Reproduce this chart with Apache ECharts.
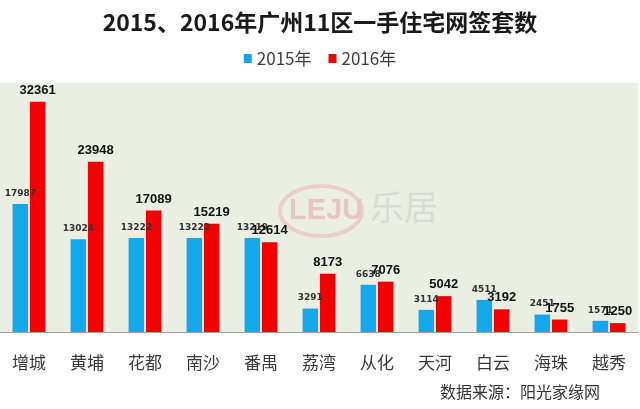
<!DOCTYPE html>
<html><head><meta charset="utf-8">
<script src="https://cdn.jsdelivr.net/npm/echarts@6/dist/echarts.min.js"></script>
<style>html,body{margin:0;padding:0;background:#fff}#c{width:640px;height:409px}</style>
</head><body><div id="c"></div>
<script>
var categories = ['增城','黄埔','花都','南沙','番禺','荔湾','从化','天河','白云','海珠','越秀'];
var values2015 = [17987,13024,13222,13222,13219,3291,6638,3114,4511,2451,1571];
var values2016 = [32361,23948,17089,15219,12614,8173,7076,5042,3192,1755,1250];
var seriesNames = ['2015年','2016年'];
var titleText = '2015、2016年广州11区一手住宅网签套数';
var sourceText = '数据来源：阳光家缘网';

var chart = echarts.init(document.getElementById('c'), null, {renderer:'canvas'});
chart.setOption({
  animation:false,
  backgroundColor:'#ffffff',
  title:{text:titleText,left:'center',top:6,
    textStyle:{fontFamily:'Noto Sans CJK SC',fontWeight:'bold',fontSize:23,color:'#1a1a1a'}},
  legend:{top:45,left:'center',itemWidth:8,itemHeight:9,itemGap:17,icon:'rect',
    textStyle:{fontFamily:'Noto Sans CJK SC',fontSize:17,color:'#404040'},
    data:seriesNames},
  graphic:[
    {type:'ellipse',z:1,shape:{cx:321,cy:211,rx:41,ry:25},style:{fill:'none',stroke:'#e9cfc9',lineWidth:4}},
    {type:'text',z:1,left:289,top:196,style:{text:'LEJU',fill:'#e6c6c0',fontFamily:'Liberation Sans',fontWeight:'bold',fontSize:29}},
    {type:'text',z:1,left:370,top:190,style:{text:'乐居',fill:'#d9dad2',fontFamily:'Noto Sans CJK SC',fontSize:34}},
    {type:'text',left:440,top:384,style:{text:sourceText,fill:'#333',fontFamily:'Noto Sans CJK SC',fontSize:16}}
  ],
  grid:{left:-3,width:641,top:83,bottom:77,show:true,backgroundColor:'#ebeee2',borderWidth:0,containLabel:false},
  xAxis:{type:'category',data:categories,
    axisLine:{lineStyle:{color:'#a0a0a0',width:1}},axisTick:{show:false},
    axisLabel:{margin:22,fontFamily:'Noto Sans CJK SC',fontSize:17,color:'#3a3a3a'}},
  yAxis:{type:'value',min:0,max:35000,show:false,splitLine:{show:false}},
  series:[
    {name:seriesNames[0],type:'bar',data:values2015,barWidth:15.5,barGap:'12%',
     itemStyle:{color:'#12a8ea'},
     label:{show:true,position:'top',distance:6,fontFamily:'DejaVu Sans',fontWeight:'bold',fontSize:9,color:'#333'}},
    {name:seriesNames[1],type:'bar',data:values2016,barWidth:15.5,
     itemStyle:{color:'#f20000'},
     label:{show:true,position:'top',distance:5,fontFamily:'Liberation Sans',fontWeight:'bold',fontSize:13,color:'#111'}}
  ]
});
</script></body></html>
